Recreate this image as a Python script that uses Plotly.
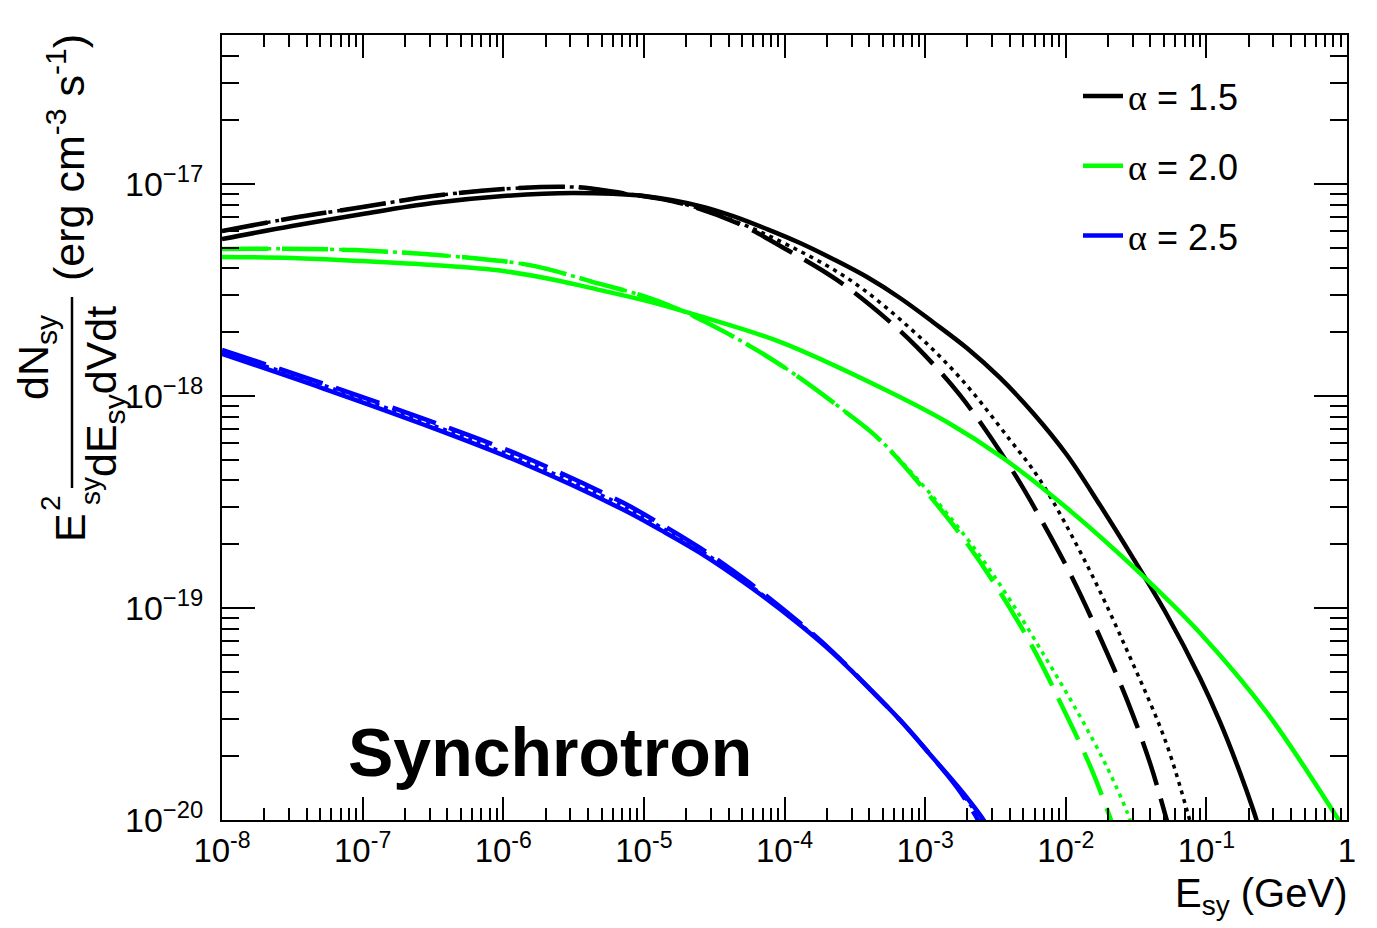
import plotly.graph_objects as go

# ---------------- spectra: E (GeV) and E^2 dN/dE dV dt (erg cm^-3 s^-1) ----------------
# alpha = 1.5
e_a15_solid = [1e-8, 3.15e-8, 1e-7, 3.16e-7, 1e-6, 3.13e-6, 1e-5, 2.51e-5, 4.31e-5, 7.51e-5,
               1.29e-4, 2.21e-4, 3.86e-4, 6.63e-4, 1.14e-3, 1.99e-3, 3.40e-3, 5.85e-3, 1.02e-2,
               1.75e-2, 3.01e-2, 5.25e-2, 9.01e-2, 0.125, 0.173, 0.215, 0.249]
f_a15_solid = [5.50e-18, 6.34e-18, 7.22e-18, 8.13e-18, 8.78e-18, 9.07e-18, 8.78e-18, 7.87e-18,
               7.06e-18, 6.13e-18, 5.27e-18, 4.43e-18, 3.64e-18, 2.90e-18, 2.23e-18, 1.68e-18,
               1.22e-18, 8.32e-19, 5.27e-19, 3.06e-19, 1.72e-19, 9.27e-20, 4.68e-20, 2.90e-20,
               1.68e-20, 1.12e-20, 8.22e-21]
e_a15_dash = [1e-8, 3.15e-8, 1e-7, 3.16e-7, 1e-6, 3.13e-6, 6.98e-6, 1.81e-5, 4.59e-5, 9.59e-5,
              2.36e-4, 5.44e-4, 8.75e-4, 1.77e-3, 4.02e-3, 6.89e-3, 1.13e-2, 1.75e-2, 2.73e-2,
              3.97e-2, 5.08e-2, 5.70e-2]
f_a15_dash = [6.00e-18, 6.91e-18, 7.79e-18, 8.78e-18, 9.47e-18, 9.68e-18, 9.07e-18, 8.13e-18,
              6.55e-18, 5.05e-18, 3.53e-18, 2.28e-18, 1.70e-18, 1.01e-18, 4.63e-19, 2.52e-19,
              1.36e-19, 7.30e-20, 3.68e-20, 1.86e-20, 1.07e-20, 8.04e-21]
e_a15_dot = [1e-8, 3.15e-8, 1e-7, 3.16e-7, 1e-6, 3.13e-6, 6.98e-6, 1.81e-5, 4.59e-5, 1.09e-4,
             2.92e-4, 7.80e-4, 1.77e-3, 4.02e-3, 6.56e-3, 1.44e-2, 2.86e-2, 5.08e-2, 7.28e-2,
             8.30e-2]
f_a15_dot = [6.00e-18, 6.91e-18, 7.79e-18, 8.78e-18, 9.47e-18, 9.68e-18, 9.07e-18, 8.13e-18,
             6.62e-18, 5.10e-18, 3.53e-18, 2.09e-18, 1.22e-18, 6.20e-19, 4.02e-19, 1.56e-19,
             5.87e-20, 2.39e-20, 1.11e-20, 8.04e-21]

# alpha = 2.0
e_a20_solid = [1e-8, 3.15e-8, 1e-7, 3.16e-7, 1e-6, 2.53e-6, 4.88e-6, 1.11e-5, 2.51e-5, 9.29e-5,
               4.78e-4, 1.43e-3, 3.58e-3, 1.02e-2, 3.37e-2, 9.01e-2, 0.270, 0.849, 1.05]
f_a20_solid = [4.53e-18, 4.48e-18, 4.33e-18, 4.15e-18, 3.89e-18, 3.49e-18, 3.16e-18, 2.78e-18,
               2.38e-18, 1.80e-18, 1.10e-18, 7.54e-19, 5.10e-19, 2.96e-19, 1.46e-19, 7.62e-20,
               3.20e-20, 1.03e-20, 8.22e-21]
e_a20_dash = [1e-8, 8.83e-8, 7.06e-7, 1.68e-6, 4.88e-6, 9.37e-6, 1.61e-5, 3.90e-5, 1.04e-4,
              2.78e-4, 4.78e-4, 9.66e-4, 1.86e-3, 3.40e-3, 5.85e-3, 9.55e-3, 1.49e-2, 2.00e-2,
              2.24e-2]
f_a20_dash = [4.94e-18, 4.88e-18, 4.43e-18, 4.10e-18, 3.38e-18, 3.00e-18, 2.63e-18, 1.98e-18,
              1.34e-18, 8.32e-19, 6.20e-19, 3.68e-19, 2.14e-19, 1.19e-19, 6.48e-20, 3.38e-20,
              1.80e-20, 1.09e-20, 8.78e-21]
e_a20_dot = [1e-8, 8.83e-8, 7.06e-7, 1.68e-6, 4.88e-6, 9.37e-6, 1.61e-5, 3.90e-5, 1.04e-4,
             2.78e-4, 4.78e-4, 1.14e-3, 2.34e-3, 4.02e-3, 7.36e-3, 1.26e-2, 1.96e-2, 2.73e-2,
             3.11e-2]
f_a20_dot = [4.94e-18, 4.88e-18, 4.43e-18, 4.10e-18, 3.38e-18, 3.00e-18, 2.63e-18, 1.98e-18,
             1.34e-18, 8.32e-19, 6.20e-19, 3.34e-19, 1.84e-19, 1.09e-19, 5.68e-20, 3.09e-20,
             1.78e-20, 1.09e-20, 8.50e-21]

# alpha = 2.5
e_a25_solid = [1e-8, 5.14e-8, 2.64e-7, 1.36e-6, 6.98e-6, 1.32e-5, 2.51e-5, 5.68e-5, 1.29e-4,
               2.21e-4, 3.86e-4, 6.63e-4, 1.14e-3, 1.69e-3, 2.45e-3, 2.89e-3]
f_a25_solid = [1.58e-18, 1.09e-18, 7.38e-19, 4.83e-19, 2.93e-19, 2.33e-19, 1.82e-19, 1.26e-19,
               8.31e-20, 6.13e-20, 4.28e-20, 2.96e-20, 1.96e-20, 1.45e-20, 1.06e-20, 8.97e-21]
e_a25_dash = [1e-8, 5.14e-8, 2.64e-7, 1.36e-6, 6.98e-6, 1.32e-5, 2.51e-5, 5.68e-5, 1.29e-4,
              2.21e-4, 3.86e-4, 6.63e-4, 1.14e-3, 1.69e-3, 2.26e-3, 2.58e-3]
f_a25_dash = [1.65e-18, 1.15e-18, 7.87e-19, 5.21e-19, 3.16e-19, 2.49e-19, 1.92e-19, 1.31e-19,
              8.49e-20, 6.20e-20, 4.28e-20, 2.96e-20, 1.96e-20, 1.42e-20, 1.06e-20, 8.97e-21]
e_a25_dot = [1e-8, 5.14e-8, 2.64e-7, 1.36e-6, 6.98e-6, 1.32e-5, 2.51e-5, 5.68e-5, 1.29e-4,
             2.21e-4, 3.86e-4, 6.63e-4, 1.14e-3, 1.69e-3, 2.34e-3, 2.71e-3]
f_a25_dot = [1.61e-18, 1.13e-18, 7.62e-19, 4.99e-19, 3.06e-19, 2.41e-19, 1.88e-19, 1.28e-19,
             8.40e-20, 6.20e-20, 4.28e-20, 2.96e-20, 1.96e-20, 1.43e-20, 1.06e-20, 8.97e-21]

ALPHA = "<span style='font-family:Liberation Serif, serif'>α</span>"
alpha_labels = [ALPHA + " = 1.5", ALPHA + " = 2.0", ALPHA + " = 2.5"]
alpha_colors = ["#000000", "#00ff00", "#0000ff"]

x_tick_vals = [1e-8, 1e-7, 1e-6, 1e-5, 1e-4, 1e-3, 1e-2, 1e-1, 1]
x_tick_text = ["10<sup>-8</sup>", "10<sup>-7</sup>", "10<sup>-6</sup>", "10<sup>-5</sup>",
               "10<sup>-4</sup>", "10<sup>-3</sup>", "10<sup>-2</sup>", "10<sup>-1</sup>", "1"]
y_tick_vals = [1e-20, 1e-19, 1e-18, 1e-17]
y_tick_text = ["10<sup>−20</sup>", "10<sup>−19</sup>", "10<sup>−18</sup>", "10<sup>−17</sup>"]

FONT = "Liberation Sans, Arial, Helvetica, sans-serif"
W, H = 1377, 928
L, R, T, B = 222, 30, 35, 108
PW, PH = W - L - R, H - T - B


def px(xp):
    return (xp - L) / PW


def py(yp):
    return (H - B - yp) / PH


series = [
    (e_a15_solid, f_a15_solid, e_a15_dash, f_a15_dash, e_a15_dot, f_a15_dot),
    (e_a20_solid, f_a20_solid, e_a20_dash, f_a20_dash, e_a20_dot, f_a20_dot),
    (e_a25_solid, f_a25_solid, e_a25_dash, f_a25_dash, e_a25_dot, f_a25_dot),
]

fig = go.Figure()
for i, (es, fs, ed, fd, eo, fo) in enumerate(series):
    c = alpha_colors[i]
    g = "a%d" % i
    fig.add_trace(go.Scatter(x=es, y=fs, mode="lines", name=alpha_labels[i], legendgroup=g,
                             line=dict(color=c, width=4.5, shape="spline", smoothing=1.0)))
    fig.add_trace(go.Scatter(x=ed, y=fd, mode="lines", showlegend=False, legendgroup=g,
                             line=dict(color=c, width=4.5, dash="46px,14px",
                                       shape="spline", smoothing=1.0)))
    fig.add_trace(go.Scatter(x=eo, y=fo, mode="lines", showlegend=False, legendgroup=g,
                             line=dict(color=c, width=3.5, dash="4px,5px",
                                       shape="spline", smoothing=1.0)))

minor_x = [k * 10.0 ** n for n in range(-8, 0) for k in range(2, 10)]
minor_y = [k * 10.0 ** n for n in range(-20, -16) for k in range(2, 10) if k * 10.0 ** n < 5e-17]

fig.update_xaxes(type="log", range=[-8, 0], showgrid=False, zeroline=False,
                 showline=True, linecolor="black", linewidth=2, mirror="allticks",
                 ticks="inside", ticklen=23, tickwidth=1.5, tickcolor="black",
                 tickmode="array", tickvals=x_tick_vals, ticktext=x_tick_text,
                 tickfont=dict(family=FONT, size=33, color="black"),
                 minor=dict(tickmode="array", tickvals=minor_x, ticks="inside", ticklen=12,
                            tickwidth=1.5, tickcolor="black", showgrid=False))
fig.update_yaxes(type="log", range=[-20, -16.297], showgrid=False, zeroline=False,
                 showline=True, linecolor="black", linewidth=2, mirror="allticks",
                 ticks="inside", ticklen=33, tickwidth=1.5, tickcolor="black",
                 tickmode="array", tickvals=y_tick_vals, ticktext=y_tick_text,
                 tickfont=dict(family=FONT, size=34, color="black"), ticklabelstandoff=10,
                 minor=dict(tickmode="array", tickvals=minor_y, ticks="inside", ticklen=17,
                            tickwidth=1.5, tickcolor="black", showgrid=False))

ann = []
# x-axis title
ann.append(dict(x=px(1349), y=py(896), xref="paper", yref="paper", xanchor="right",
                yanchor="middle", showarrow=False, text="E<sub>sy</sub> (GeV)",
                font=dict(family=FONT, size=40, color="black")))
# panel label
ann.append(dict(x=px(550), y=py(752), xref="paper", yref="paper", xanchor="center",
                yanchor="middle", showarrow=False, text="<b>Synchrotron</b>",
                font=dict(family=FONT, size=68, color="black")))
# y-axis title pieces (rotated)
yt = dict(xref="paper", yref="paper", xanchor="center", yanchor="middle",
          showarrow=False, textangle=-90)
TF = 43
ann.append(dict(yt, x=px(66), y=py(158), text="(erg cm<sup>-3</sup> s<sup>-1</sup>)",
                font=dict(family=FONT, size=TF, color="black")))
ann.append(dict(yt, x=px(36), y=py(358), text="dN<sub>sy</sub>",
                font=dict(family=FONT, size=TF, color="black")))
ann.append(dict(yt, x=px(104), y=py(392), text="dE<sub>sy</sub>dVdt",
                font=dict(family=FONT, size=TF, color="black")))
ann.append(dict(yt, x=px(70), y=py(528), text="E",
                font=dict(family=FONT, size=TF, color="black")))
ann.append(dict(yt, x=px(50), y=py(503), text="2",
                font=dict(family=FONT, size=28, color="black")))
ann.append(dict(yt, x=px(90), y=py(491), text="sy",
                font=dict(family=FONT, size=28, color="black")))

shapes = [dict(type="line", xref="paper", yref="paper", x0=px(72), x1=px(72),
               y0=py(297), y1=py(488), line=dict(color="black", width=2.5))]

fig.update_layout(
    width=W, height=H,
    margin=dict(l=L, r=R, t=T, b=B),
    paper_bgcolor="white", plot_bgcolor="white",
    font=dict(family=FONT, color="black"),
    annotations=ann, shapes=shapes,
    legend=dict(x=px(1078), y=py(66), xanchor="left", yanchor="top",
                bgcolor="rgba(0,0,0,0)", borderwidth=0,
                font=dict(family=FONT, size=36, color="black"),
                tracegroupgap=20, itemwidth=40),
    showlegend=True,
)

fig.write_html("out.html")
